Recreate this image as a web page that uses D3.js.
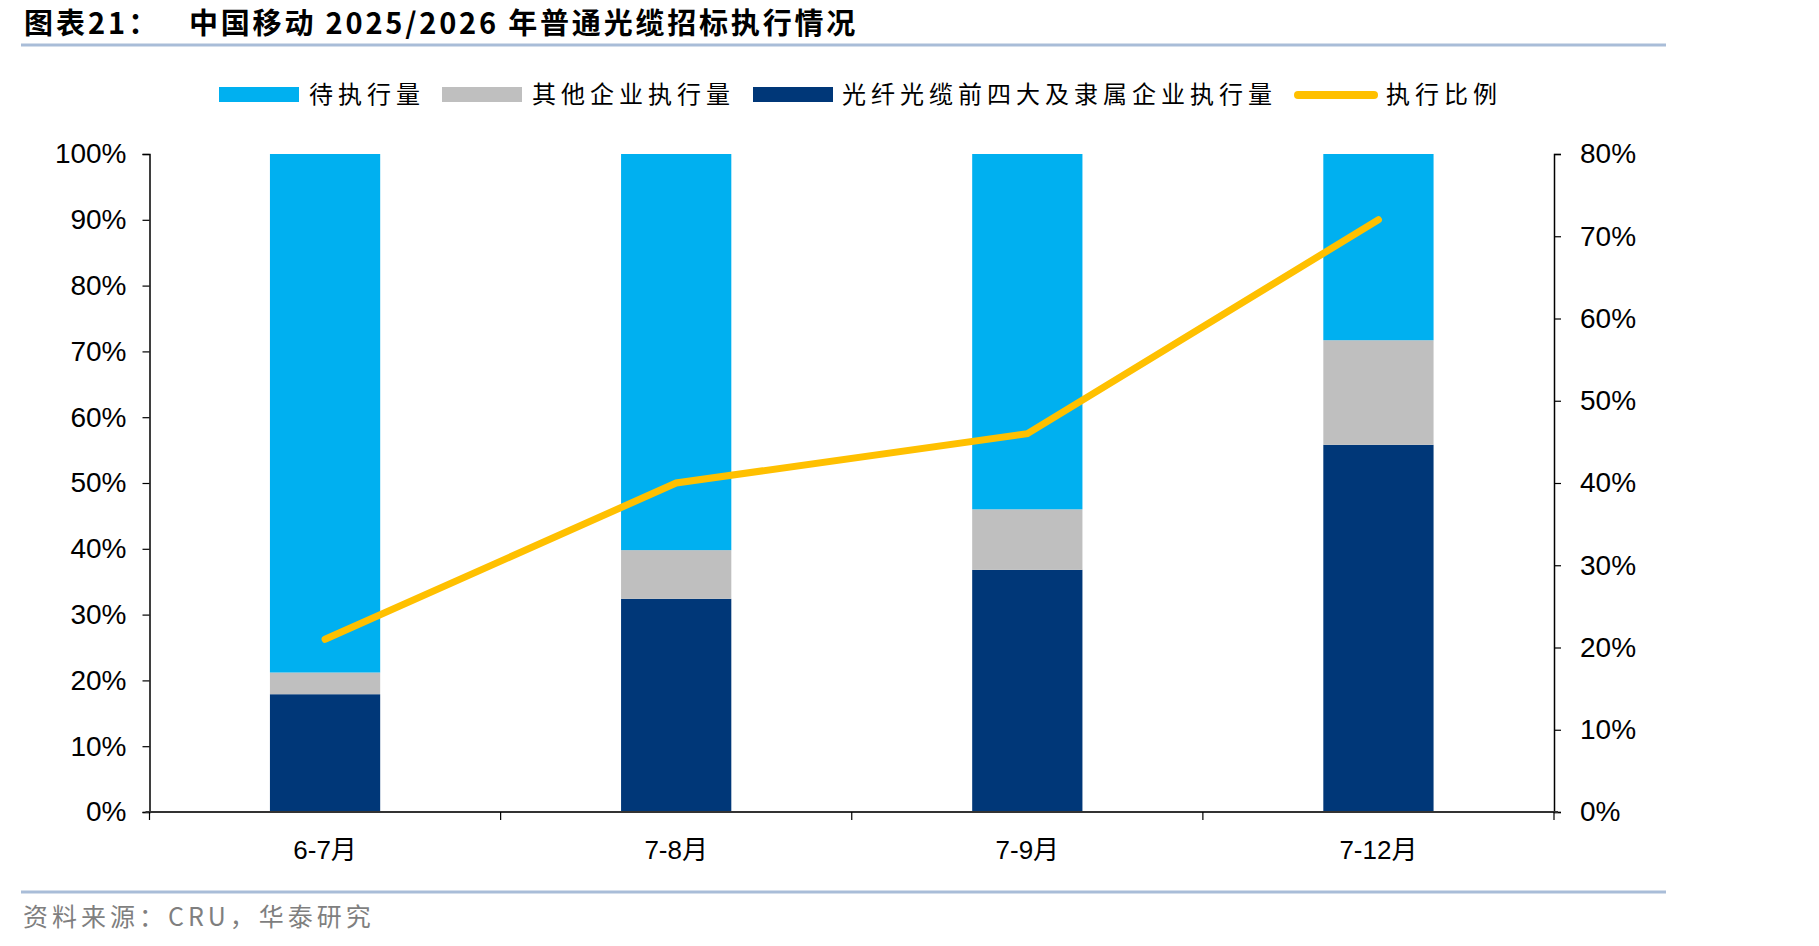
<!DOCTYPE html>
<html>
<head>
<meta charset="utf-8">
<script src="https://cdn.jsdelivr.net/npm/d3@7"></script>
<style>
  body { margin: 0; background: #fff; }
  text { font-family: "Liberation Sans", Arial, "Noto Sans CJK SC", sans-serif; }
  .cn { font-family: "Noto Sans CJK SC", sans-serif; }
</style>
</head>
<body>
<div id="chart"></div>
<script>
// chart data (percent)
var categories = ["6-7月", "7-8月", "7-9月", "7-12月"];
var topFour = [17.9, 32.4, 36.8, 55.8];     // 光纤光缆前四大及隶属企业执行量
var others = [3.3, 7.4, 9.2, 15.9];         // 其他企业执行量
var ratio = [21.0, 40.0, 46.0, 72.0];       // 执行比例 (right axis)
var leftTicks = [0, 10, 20, 30, 40, 50, 60, 70, 80, 90, 100];
var rightTicks = [0, 10, 20, 30, 40, 50, 60, 70, 80];

var seriesNames = ["待执行量", "其他企业执行量", "光纤光缆前四大及隶属企业执行量", "执行比例"];
var colors = {
    pending: "#00b0f0",
    others: "#bfbfbf",
    top: "#003778",
    line: "#ffc000"
};

var width = 1819,
    height = 946;

var margin = { left: 149.5, right: 1819 - 1554, top: 154, bottom: 946 - 812 };

var svg = d3.select("#chart")
    .append("svg")
    .attr("width", width)
    .attr("height", height);

// stacked rows
var rows = categories.map(function(c, i) {
    return { cat: c, top: topFour[i], others: others[i], pending: 100 - topFour[i] - others[i] };
});
var stack = d3.stack().keys(["top", "others", "pending"])(rows);

var x = d3.scaleBand()
    .domain(categories)
    .range([margin.left, width - margin.right])
    .paddingInner(0.686)
    .paddingOuter(0.343);

var xTicksScale = d3.scaleBand()
    .domain(categories)
    .range([margin.left, width - margin.right]);

var yLeft = d3.scaleLinear().domain([0, 100]).range([height - margin.bottom, margin.top]);
var yRight = d3.scaleLinear().domain([0, 80]).range([height - margin.bottom, margin.top]);

// title
svg.append("text")
    .attr("class", "cn")
    .attr("x", 24)
    .attr("y", 34)
    .attr("font-size", "29px")
    .attr("font-weight", "bold")
    .attr("letter-spacing", "3px")
    .attr("fill", "#000")
    .text("图表21：");

svg.append("text")
    .attr("class", "cn")
    .attr("x", 189)
    .attr("y", 34)
    .attr("font-size", "29px")
    .attr("font-weight", "bold")
    .attr("letter-spacing", "2.8px")
    .attr("fill", "#000")
    .text("中国移动 2025/2026 年普通光缆招标执行情况");

svg.append("line")
    .attr("x1", 21).attr("x2", 1666)
    .attr("y1", 45).attr("y2", 45)
    .attr("stroke", "#a9bdd8")
    .attr("stroke-width", 3);

// bars
var layerColors = [colors.top, colors.others, colors.pending];
svg.selectAll(".layer")
    .data(stack)
    .enter().append("g")
    .attr("class", "layer")
    .attr("fill", function(d, i) { return layerColors[i]; })
    .selectAll("rect")
    .data(function(d) { return d; })
    .enter().append("rect")
    .attr("x", function(d) { return x(d.data.cat); })
    .attr("width", x.bandwidth())
    .attr("y", function(d) { return yLeft(d[1]); })
    .attr("height", function(d) { return yLeft(d[0]) - yLeft(d[1]); });

// left axis
var leftAxis = svg.append("g")
    .attr("transform", "translate(" + margin.left + ",0)")
    .call(d3.axisLeft(yLeft).tickValues(leftTicks).tickSize(7).tickPadding(16)
        .tickFormat(function(d) { return d + "%"; }));

// right axis
var rightAxis = svg.append("g")
    .attr("transform", "translate(" + (width - margin.right) + ",0)")
    .call(d3.axisRight(yRight).tickValues(rightTicks).tickSize(7).tickPadding(19)
        .tickFormat(function(d) { return d + "%"; }));

[leftAxis, rightAxis].forEach(function(a) {
    a.select(".domain").attr("stroke", "#000").attr("stroke-width", 1.5);
    a.selectAll(".tick line").attr("stroke", "#000").attr("stroke-width", 1.2);
    a.selectAll(".tick text")
        .attr("font-size", "28px")
        .attr("font-family", "Liberation Sans, Arial, sans-serif")
        .attr("fill", "#000");
});

// x axis
var xAxisG = svg.append("g").attr("transform", "translate(0," + (height - margin.bottom) + ")");
xAxisG.append("line")
    .attr("x1", margin.left - 4).attr("x2", width - margin.right + 4)
    .attr("stroke", "#333")
    .attr("stroke-width", 2);

var xTickPos = categories.map(function(c) { return xTicksScale(c); }).concat([width - margin.right]);
xAxisG.selectAll(".xtick")
    .data(xTickPos)
    .enter().append("line")
    .attr("x1", function(d) { return d; })
    .attr("x2", function(d) { return d; })
    .attr("y1", 0).attr("y2", 8)
    .attr("stroke", "#000")
    .attr("stroke-width", 1.2);

xAxisG.selectAll(".xlabel")
    .data(categories)
    .enter().append("text")
    .attr("x", function(d) { return x(d) + x.bandwidth() / 2; })
    .attr("y", 47)
    .attr("text-anchor", "middle")
    .attr("font-size", "26px")
    .attr("fill", "#000")
    .text(function(d) { return d; });

// ratio line
var line = d3.line()
    .x(function(d, i) { return x(categories[i]) + x.bandwidth() / 2; })
    .y(function(d) { return yRight(d); });

svg.append("path")
    .datum(ratio)
    .attr("d", line)
    .attr("fill", "none")
    .attr("stroke", colors.line)
    .attr("stroke-width", 7)
    .attr("stroke-linecap", "round")
    .attr("stroke-linejoin", "miter");

// legend
var legendItems = [
    { name: seriesNames[0], color: colors.pending, type: "rect", x: 219, tx: 309 },
    { name: seriesNames[1], color: colors.others, type: "rect", x: 442, tx: 532 },
    { name: seriesNames[2], color: colors.top, type: "rect", x: 753, tx: 842 },
    { name: seriesNames[3], color: colors.line, type: "line", x: 1294, tx: 1386 }
];

var legend = svg.selectAll(".legend")
    .data(legendItems)
    .enter().append("g")
    .attr("class", "legend");

legend.filter(function(d) { return d.type === "rect"; })
    .append("rect")
    .attr("x", function(d) { return d.x; })
    .attr("y", 87)
    .attr("width", 80)
    .attr("height", 15)
    .attr("fill", function(d) { return d.color; });

legend.filter(function(d) { return d.type === "line"; })
    .append("line")
    .attr("x1", function(d) { return d.x + 4; })
    .attr("x2", function(d) { return d.x + 80; })
    .attr("y1", 95).attr("y2", 95)
    .attr("stroke", function(d) { return d.color; })
    .attr("stroke-width", 8)
    .attr("stroke-linecap", "round");

legend.append("text")
    .attr("class", "cn")
    .attr("x", function(d) { return d.tx; })
    .attr("y", 103)
    .attr("font-size", "24px")
    .attr("letter-spacing", "5px")
    .attr("fill", "#000")
    .text(function(d) { return d.name; });

// footer
svg.append("line")
    .attr("x1", 21).attr("x2", 1666)
    .attr("y1", 892).attr("y2", 892)
    .attr("stroke", "#a9bdd8")
    .attr("stroke-width", 3);

svg.append("text")
    .attr("class", "cn")
    .attr("x", 23)
    .attr("y", 926)
    .attr("font-size", "25px")
    .attr("letter-spacing", "4px")
    .attr("fill", "#7f7f7f")
    .text("资料来源：CRU，华泰研究");
</script>
</body>
</html>
